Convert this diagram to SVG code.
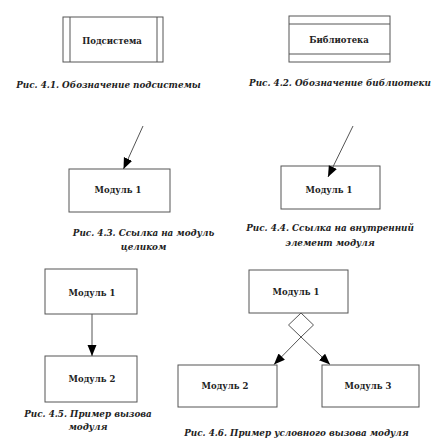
<svg xmlns="http://www.w3.org/2000/svg" width="444" height="439" viewBox="0 0 444 439">
<style>
  .box { fill: #fff; stroke: #555; stroke-width: 1; }
  .ln { fill: none; stroke: #555; stroke-width: 1; }
  .lbl { font-family: "DejaVu Serif", "Liberation Serif", serif; font-size: 8.5px; font-weight: bold; fill: #222; text-anchor: middle; }
  .cap { font-family: "DejaVu Serif", "Liberation Serif", serif; font-size: 8.8px; font-weight: bold; font-style: italic; fill: #222; text-anchor: middle; }
</style>
<defs>
  <marker id="arr" markerUnits="userSpaceOnUse" markerWidth="12" markerHeight="10" refX="11" refY="4.5" orient="auto">
    <path d="M0,0 L11,4.5 L0,9 z" fill="#000"/>
  </marker>
</defs>
<rect width="444" height="439" fill="#fff"/>

<g id="fig41">
  <g id="subsystem">
    <rect class="box" x="63" y="17" width="100" height="45"/>
    <line class="ln" x1="70" y1="17" x2="70" y2="62"/>
    <line class="ln" x1="157" y1="17" x2="157" y2="62"/>
    <text class="lbl" x="112" y="44">Подсистема</text>
  </g>
  <text class="cap" x="108.5" y="88">Рис. 4.1. Обозначение подсистемы</text>
</g>

<g id="fig42">
  <g id="library">
    <rect class="box" x="289" y="16" width="101" height="46"/>
    <line class="ln" x1="289" y1="24" x2="390" y2="24"/>
    <line class="ln" x1="289" y1="54" x2="390" y2="54"/>
    <text class="lbl" x="339" y="43">Библиотека</text>
  </g>
  <text class="cap" x="340" y="86">Рис. 4.2. Обозначение библиотеки</text>
</g>

<g id="fig43">
  <g id="m43">
    <rect class="box" x="69" y="169" width="101" height="43"/>
    <text class="lbl" x="118" y="193">Модуль 1</text>
  </g>
  <text class="cap" x="143.5" y="236">Рис. 4.3. Ссылка на модуль</text>
  <text class="cap" x="143.5" y="250">целиком</text>
</g>

<g id="fig44">
  <g id="m44">
    <rect class="box" x="281" y="166" width="99" height="43"/>
    <text class="lbl" x="329" y="193">Модуль 1</text>
  </g>
  <text class="cap" x="330" y="231">Рис. 4.4. Ссылка на внутренний</text>
  <text class="cap" x="330" y="246">элемент модуля</text>
</g>

<g id="fig45">
  <g id="m45a">
    <rect class="box" x="45" y="269" width="92" height="45"/>
    <text class="lbl" x="92" y="296">Модуль 1</text>
  </g>
  <g id="m45b">
    <rect class="box" x="45" y="356" width="92" height="46"/>
    <text class="lbl" x="92" y="382">Модуль 2</text>
  </g>
  <text class="cap" x="88" y="417">Рис. 4.5. Пример вызова</text>
  <text class="cap" x="88" y="430">модуля</text>
</g>

<g id="fig46">
  <g id="m46a">
    <rect class="box" x="249" y="270" width="99" height="43"/>
    <text class="lbl" x="296" y="295">Модуль 1</text>
  </g>
  <g id="m46b">
    <rect class="box" x="178" y="365" width="99" height="42"/>
    <text class="lbl" x="225" y="389">Модуль 2</text>
  </g>
  <g id="m46c">
    <rect class="box" x="322" y="365" width="97" height="42"/>
    <text class="lbl" x="368" y="389">Модуль 3</text>
  </g>
  <g id="cond">
    <path class="box" d="M301,313 L313.5,325 L301,337 L288.5,325 z"/>
  </g>
  <text class="cap" x="296.5" y="436">Рис. 4.6. Пример условного вызова модуля</text>
</g>

<g id="connectors">
  <line class="ln" x1="143" y1="126" x2="123.5" y2="169" marker-end="url(#arr)"/>
  <line class="ln" x1="353" y1="126" x2="328" y2="177" marker-end="url(#arr)"/>
  <line class="ln" x1="92" y1="314" x2="92" y2="356" marker-end="url(#arr)"/>
  <line class="ln" x1="301" y1="337" x2="274" y2="364.5" marker-end="url(#arr)"/>
  <line class="ln" x1="301" y1="337" x2="330" y2="364.5" marker-end="url(#arr)"/>
</g>
</svg>
